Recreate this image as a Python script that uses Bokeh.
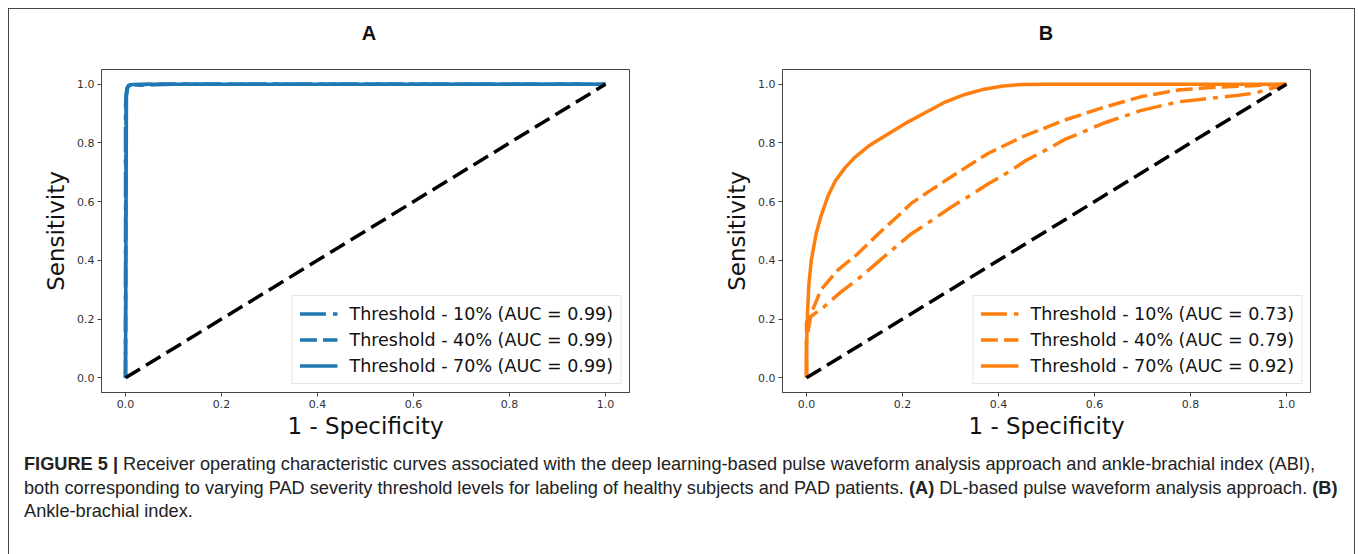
from bokeh.plotting import figure
from bokeh.models import Legend, LegendItem, Div, Range1d, FixedTicker
from bokeh.layouts import row, column
from bokeh.embed import file_html
from bokeh.resources import INLINE

# ---------------- data ----------------
tick_values = [0.0, 0.2, 0.4, 0.6, 0.8, 1.0]
tick_labels = ["0.0", "0.2", "0.4", "0.6", "0.8", "1.0"]

panel_titles = ["A", "B"]
x_label = "1 - Specificity"
y_label = "Sensitivity"

labels_a = ["Threshold - 10% (AUC = 0.99)",
            "Threshold - 40% (AUC = 0.99)",
            "Threshold - 70% (AUC = 0.99)"]
labels_b = ["Threshold - 10% (AUC = 0.73)",
            "Threshold - 40% (AUC = 0.79)",
            "Threshold - 70% (AUC = 0.92)"]

# Panel A (DL-based pulse waveform analysis)
a10_x = [0.0, 0.0, 0.002, 0.004, 0.008, 0.015, 0.03, 0.06, 0.1, 1.0]
a10_y = [0.0, 0.93, 0.975, 0.99, 0.997, 0.999, 0.996, 0.998, 1.0, 1.0]
a40_x = [0.0, 0.001, 0.003, 0.006, 0.012, 0.025, 0.05, 1.0]
a40_y = [0.0, 0.95, 0.985, 0.995, 0.998, 0.997, 1.0, 1.0]
a70_x = [0.0, 0.002, 0.004, 0.008, 0.015, 0.03, 1.0]
a70_y = [0.0, 0.96, 0.985, 0.996, 0.999, 1.0, 1.0]

# Panel B (Ankle-brachial index)
b10_x = [0.0, 0.0, 0.01, 0.035, 0.07, 0.11, 0.16, 0.218, 0.26, 0.30, 0.34,
         0.378, 0.42, 0.457, 0.50, 0.536, 0.58, 0.617, 0.66, 0.696, 0.74,
         0.775, 0.82, 0.857, 0.90, 0.935, 1.0]
b10_y = [0.0, 0.19, 0.21, 0.24, 0.29, 0.34, 0.41, 0.49, 0.535, 0.58, 0.62,
         0.66, 0.70, 0.74, 0.777, 0.81, 0.84, 0.866, 0.89, 0.91, 0.927,
         0.94, 0.948, 0.955, 0.962, 0.97, 1.0]
b40_x = [0.0, 0.0, 0.01, 0.03, 0.064, 0.105, 0.156, 0.19, 0.218, 0.26, 0.30,
         0.34, 0.378, 0.42, 0.457, 0.50, 0.536, 0.58, 0.617, 0.66, 0.696,
         0.74, 0.775, 0.82, 0.857, 0.93, 1.0]
b40_y = [0.0, 0.13, 0.22, 0.30, 0.365, 0.42, 0.50, 0.55, 0.594, 0.64, 0.683,
         0.725, 0.764, 0.797, 0.826, 0.853, 0.877, 0.90, 0.92, 0.94, 0.957,
         0.97, 0.98, 0.986, 0.99, 0.995, 1.0]
b70_x = [0.0, 0.0, 0.002, 0.005, 0.01, 0.02, 0.03, 0.045, 0.06, 0.08, 0.10,
         0.13, 0.17, 0.21, 0.25, 0.29, 0.33, 0.37, 0.41, 0.45, 0.50, 1.0]
b70_y = [0.0, 0.1, 0.22, 0.32, 0.40, 0.49, 0.55, 0.62, 0.67, 0.715, 0.75,
         0.79, 0.83, 0.87, 0.905, 0.94, 0.965, 0.983, 0.994, 0.999, 1.0, 1.0]

chance_x = [0.0, 1.0]
chance_y = [0.0, 1.0]

caption_bold = "FIGURE 5 |"
caption_lines = [
    "Receiver operating characteristic curves associated with the deep learning-based pulse waveform analysis approach and ankle-brachial index (ABI),",
    "both corresponding to varying PAD severity threshold levels for labeling of healthy subjects and PAD patients. <b>(A)</b> DL-based pulse waveform analysis approach. <b>(B)</b>",
    "Ankle-brachial index.",
]

BLUE = "#1f77b4"
ORANGE = "#ff7f0e"
DASHES = ["26 7 5 7", "17 6", "solid"]


def make_panel(series, labels, color, min_left, min_right):
    p = figure(frame_width=528, frame_height=323,
               min_border_left=min_left, min_border_right=min_right,
               min_border_top=10, min_border_bottom=60,
               x_range=Range1d(-0.05, 1.05), y_range=Range1d(-0.05, 1.05),
               output_backend="svg", toolbar_location=None)

    p.grid.visible = False
    p.outline_line_color = "#444444"
    p.outline_line_width = 1
    for ax in (p.xaxis[0], p.yaxis[0]):
        ax.ticker = FixedTicker(ticks=tick_values)
        ax.major_label_overrides = {v: s for v, s in zip(tick_values, tick_labels)}
        ax.minor_tick_line_color = None
        ax.major_tick_in = 0
        ax.major_tick_out = 4
        ax.major_tick_line_color = "#444444"
        ax.axis_line_color = "#444444"
        ax.major_label_text_font = "DejaVu Sans"
        ax.major_label_text_font_size = "11px"
        ax.major_label_text_color = "#333333"
        ax.major_label_standoff = 3
        ax.axis_label_text_font = "DejaVu Sans"
        ax.axis_label_text_font_size = "23px"
        ax.axis_label_text_font_style = "normal"
        ax.axis_label_text_color = "#111111"
    p.xaxis.axis_label_standoff = 2
    p.yaxis.axis_label_standoff = 5
    p.xaxis.axis_label = x_label
    p.yaxis.axis_label = y_label

    items = []
    for (xs, ys), lab, dash in zip(series, labels, DASHES):
        r = p.line(xs, ys, line_color=color, line_width=3.5, line_dash=dash,
                   line_join="round")
        items.append(LegendItem(label=lab, renderers=[r]))
    p.line(chance_x, chance_y, line_color="black", line_width=3.5, line_dash="17 7")

    leg = Legend(items=items, location="bottom_right")
    leg.label_text_font = "DejaVu Sans"
    leg.label_text_font_size = "17.5px"
    leg.label_text_color = "#111111"
    leg.glyph_width = 38
    leg.glyph_height = 21
    leg.label_height = 21
    leg.label_standoff = 12
    leg.padding = 7
    leg.spacing = 5
    leg.margin = 8
    leg.border_line_color = "#cccccc"
    leg.border_line_width = 1
    leg.background_fill_alpha = 0.8
    p.add_layout(leg)
    return p


def make_title(letter, width, left):
    html = ('<div style="margin-left:%dpx; width:528px; padding-top:12px; '
            'text-align:center; font-family:\'Liberation Sans\',sans-serif; '
            'font-weight:bold; font-size:20px; line-height:24px; color:#111;">%s</div>'
            % (left, letter))
    return Div(text=html, width=width, height=50, margin=0)


pa = make_panel([(a10_x, a10_y), (a40_x, a40_y), (a70_x, a70_y)],
                labels_a, BLUE, 92, 61)
pb = make_panel([(b10_x, b10_y), (b40_x, b40_y), (b70_x, b70_y)],
                labels_b, ORANGE, 92, 44)
ta = make_title(panel_titles[0], 681, 96)
tb = make_title(panel_titles[1], 664, 92)

caption_html = (
    '<div style="padding:0 0 0 10px; margin-top:-4px; white-space:nowrap; '
    'font-family:\'Liberation Sans\',sans-serif; '
    'font-size:18.2px; line-height:23.5px; color:#222;">'
    + "<b>" + caption_bold + "</b> " + caption_lines[0] + "<br>"
    + caption_lines[1] + "<br>" + caption_lines[2] + "</div>"
)
cap = Div(text=caption_html, width=1335, height=95)

layout = column(row(ta, tb), row(pa, pb), cap, margin=(8, 0, 0, 8),
                styles={"border-left": "1px solid #444",
                        "border-top": "1px solid #444",
                        "border-right": "1px solid #444"})

open("out.html", "w").write(file_html(layout, INLINE))
